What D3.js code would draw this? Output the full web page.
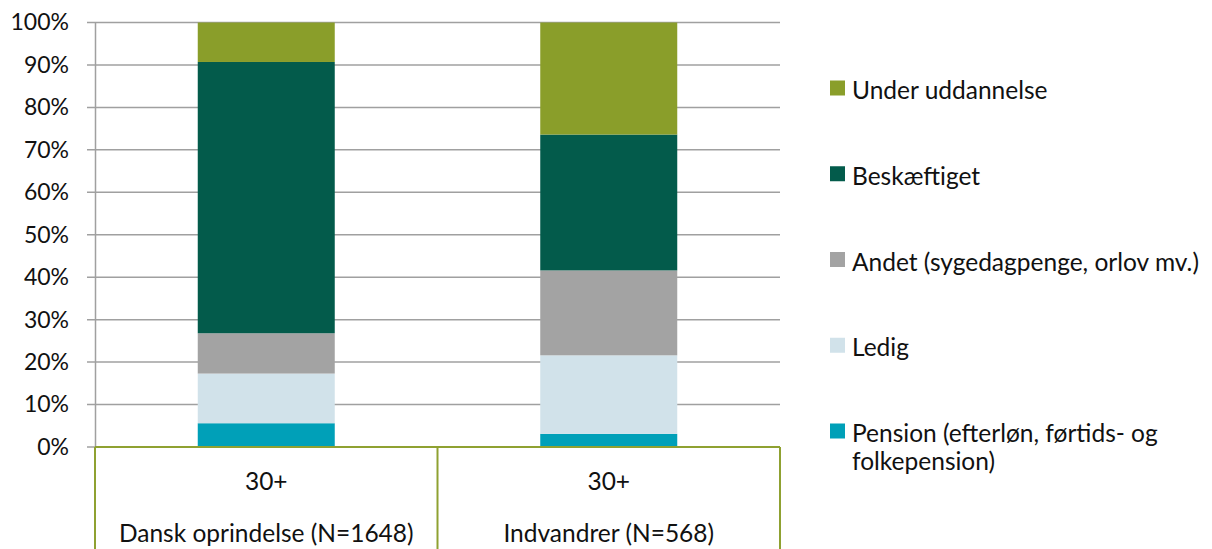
<!DOCTYPE html>
<html lang="da">
<head>
    <meta charset="UTF-8">
    <title>Beskæftigelse 30+</title>
    <script src="https://cdn.jsdelivr.net/npm/d3@7"></script>
    <style>
        body, html {
            margin: 0;
            padding: 0;
            height: 100%;
            overflow: hidden;
            background: #fff;
        }
        svg {
            display: block;
        }
        text {
            font-family: Lato, "Open Sans", sans-serif;
            fill: #111;
        }
    </style>
</head>
<body>
    <svg id="mainsvg"></svg>
    <script>
        // data
        const groups = ['Dansk oprindelse (N=1648)', 'Indvandrer (N=568)'];
        const ageLabels = ['30+', '30+'];
        const seriesNames = ['Pension (efterløn, førtids- og folkepension)', 'Ledig',
            'Andet (sygedagpenge, orlov mv.)', 'Beskæftiget', 'Under uddannelse'];
        const pension = [5.6, 3.1];
        const ledig = [11.7, 18.5];
        const andet = [9.5, 20.0];
        const beskaeftiget = [63.9, 32.0];
        const underUddannelse = [9.3, 26.4];
        const yTicks = [0, 10, 20, 30, 40, 50, 60, 70, 80, 90, 100];
        const colors = ['#00a0b8', '#d1e2ea', '#a3a3a3', '#035b4b', '#8a9e2a'];

        const width = 1212, height = 549;
        const svg = d3.select('svg').attr('width', width).attr('height', height);

        const margin = { top: 22.5, left: 95, right: 432, bottom: 102 };
        const x0 = margin.left, x1 = width - margin.right;
        const yTop = margin.top, yBottom = height - margin.bottom;
        const fontSize = '24.5px';

        const table = groups.map((g, i) => ({
            group: g,
            [seriesNames[0]]: pension[i],
            [seriesNames[1]]: ledig[i],
            [seriesNames[2]]: andet[i],
            [seriesNames[3]]: beskaeftiget[i],
            [seriesNames[4]]: underUddannelse[i]
        }));
        const stacked = d3.stack().keys(seriesNames)(table);

        const xScale = d3.scaleBand().domain(groups).range([x0, x1]).paddingInner(0).paddingOuter(0);
        const yScale = d3.scaleLinear().domain([0, 100]).range([yBottom, yTop]);
        const barW = xScale.bandwidth() * 0.4;

        // gridlines
        svg.append('g').selectAll('line').data(yTicks).join('line')
            .attr('x1', x0 - 8).attr('x2', x1)
            .attr('y1', d => yScale(d)).attr('y2', d => yScale(d))
            .attr('stroke', '#a0a0a0').attr('stroke-width', 1.5);

        // y axis
        const yAxis = d3.axisLeft(yScale).tickValues(yTicks).tickSize(0).tickPadding(26)
            .tickFormat(d => d + '%');
        const yAxisGroup = svg.append('g').attr('transform', `translate(${x0},0)`).call(yAxis);
        yAxisGroup.select('.domain').attr('stroke', '#a0a0a0').attr('stroke-width', 1.5);
        yAxisGroup.selectAll('.tick text').attr('font-size', '23px').attr('fill', '#111')
            .attr('font-family', 'Lato, sans-serif');

        // bars
        svg.append('g').selectAll('g').data(stacked).join('g')
            .attr('fill', (d, i) => colors[i])
            .selectAll('rect').data(d => d).join('rect')
            .attr('x', d => xScale(d.data.group) + (xScale.bandwidth() - barW) / 2)
            .attr('width', barW)
            .attr('y', d => yScale(d[1]))
            .attr('height', d => yScale(d[0]) - yScale(d[1]));

        // category axis (two levels)
        const catG = svg.append('g');
        catG.append('line')
            .attr('x1', x0).attr('x2', x1).attr('y1', yBottom).attr('y2', yBottom)
            .attr('stroke', '#8fa131').attr('stroke-width', 2);
        const edges = [x0].concat(groups.map(g => xScale(g) + xScale.bandwidth()));
        catG.selectAll('.edge').data(edges).join('line').attr('class', 'edge')
            .attr('x1', d => d).attr('x2', d => d)
            .attr('y1', yBottom).attr('y2', height)
            .attr('stroke', '#8fa131').attr('stroke-width', 2);
        catG.selectAll('.age').data(groups).join('text').attr('class', 'age')
            .attr('x', d => xScale(d) + xScale.bandwidth() / 2)
            .attr('y', 490)
            .attr('text-anchor', 'middle')
            .attr('font-size', fontSize)
            .text((d, i) => ageLabels[i]);
        catG.selectAll('.grp').data(groups).join('text').attr('class', 'grp')
            .attr('x', d => xScale(d) + xScale.bandwidth() / 2)
            .attr('y', 542)
            .attr('text-anchor', 'middle')
            .attr('font-size', fontSize)
            .text(d => d);

        // legend (top to bottom reversed)
        const legendItems = seriesNames.map((s, i) => ({ name: s, color: colors[i] })).reverse();
        const legendY = d3.scalePoint().domain(legendItems.map(d => d.name)).range([88, 431]);
        const legend = svg.append('g').selectAll('g').data(legendItems).join('g')
            .attr('transform', d => `translate(830,${legendY(d.name)})`);
        legend.append('rect').attr('x', 0).attr('y', -7.5).attr('width', 15).attr('height', 15)
            .attr('fill', d => d.color);
        legend.append('text').attr('x', 22).attr('y', 11).attr('font-size', fontSize)
            .each(function (d) {
                const t = d3.select(this);
                if (d.name.startsWith('Pension')) {
                    t.append('tspan').attr('x', 22).text('Pension (efterløn, førtids- og');
                    t.append('tspan').attr('x', 22).attr('dy', 28).text('folkepension)');
                } else {
                    t.text(d.name);
                }
            });
    </script>
</body>
</html>
